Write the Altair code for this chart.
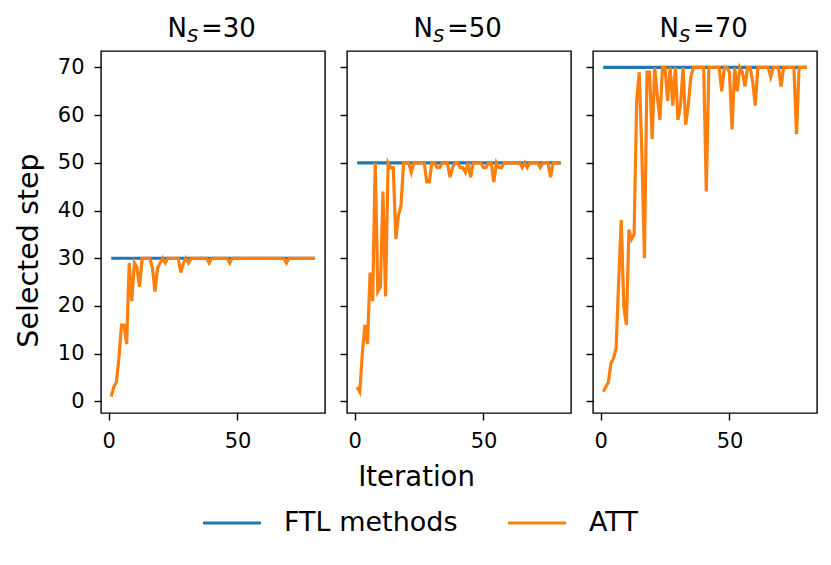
import altair as alt
import pandas as pd

# ---------------- data ----------------
iterations = list(range(1, 81))
ftl_iterations = [1, 80]
n_s_values = [30, 50, 70]

att_30 = [1, 3, 4, 9, 16, 16, 12, 29, 21, 29, 28, 24, 30, 30, 30, 30, 28, 23, 28, 29,
          30, 29, 30, 30, 30, 30, 30, 27, 29, 30, 29, 30, 30, 30, 30, 30, 30, 30, 29, 30,
          30, 30, 30, 30, 30, 30, 29, 30, 30, 30, 30, 30, 30, 30, 30, 30, 30, 30, 30, 30,
          30, 30, 30, 30, 30, 30, 30, 30, 29, 30, 30, 30, 30, 30, 30, 30, 30, 30, 30, 30]

att_50 = [3, 2, 10, 16, 12, 27, 21, 50, 23, 24, 44, 22, 50, 49, 49, 34, 39, 41, 50, 50,
          50, 48, 50, 50, 50, 50, 50, 46, 46, 50, 50, 49, 49, 50, 50, 50, 47, 49, 50, 50,
          49, 49, 48, 50, 47, 50, 50, 50, 50, 49, 49, 50, 50, 46, 50, 49, 49, 50, 50, 50,
          50, 50, 50, 50, 49, 50, 49, 50, 50, 50, 50, 49, 50, 50, 50, 47, 50, 50, 50, 50]

att_70 = [2, 3, 4, 8, 9, 11, 25, 38, 20, 16, 36, 34, 35, 63, 69, 52, 30, 69, 69, 55,
          70, 64, 59, 70, 70, 63, 70, 62, 70, 59, 62, 70, 58, 62, 68, 70, 70, 70, 70, 70,
          44, 70, 70, 70, 70, 70, 65, 70, 70, 69, 57, 70, 65, 70, 69, 66, 70, 70, 67, 62,
          70, 70, 70, 70, 70, 68, 70, 70, 70, 66, 70, 70, 70, 70, 70, 56, 70, 70, 70, 70]

att_series = [att_30, att_50, att_70]
series_names = ["FTL methods", "ATT"]
series_colors = ["#1f77b4", "#ff7f0e"]
y_ticks = [0, 10, 20, 30, 40, 50, 60, 70]
x_ticks = [0, 50]

FONT = "DejaVu Sans"
W, H = 224, 362

color_enc = alt.Color(
    "series:N",
    scale=alt.Scale(domain=series_names, range=series_colors),
    legend=alt.Legend(
        orient="none", legendX=100, legendY=441, direction="horizontal",
        symbolType="stroke", symbolSize=3364, symbolStrokeWidth=3.2,
        labelFontSize=27, labelFont=FONT, labelColor="black", labelOffset=21,
        columnPadding=43, title=None, labelLimit=400,
    ),
)


def panel(idx):
    ns = n_s_values[idx]
    att = att_series[idx]
    df_att = pd.DataFrame({"Iteration": iterations, "step": att, "series": "ATT"})
    df_ftl = pd.DataFrame({"Iteration": ftl_iterations, "step": [ns, ns], "series": "FTL methods"})

    xaxis_kw = dict(values=x_ticks, labelAngle=0)
    if idx == 1:
        xaxis_kw.update(title="Iteration", titleX=69, titleY=72, titleBaseline="alphabetic",
                        titleAlign="center", titleFontSize=27.5)
    else:
        xaxis_kw.update(title=None)
    yaxis_kw = dict(values=y_ticks)
    if idx == 0:
        yaxis_kw.update(title="Selected step", titleX=-64, titleY=199, titleAngle=270,
                        titleBaseline="alphabetic", titleAlign="center", titleFontSize=28.5)
    else:
        yaxis_kw.update(title=None, labels=False)

    x = alt.X("Iteration:Q", scale=alt.Scale(domain=[-2.95, 83.95], nice=False, zero=False),
              axis=alt.Axis(**xaxis_kw))
    y = alt.Y("step:Q", scale=alt.Scale(domain=[-2.45, 73.45], nice=False, zero=False),
              axis=alt.Axis(**yaxis_kw))

    ftl = alt.Chart(df_ftl).mark_line(strokeWidth=3.2).encode(x=x, y=y, color=color_enc)
    attl = alt.Chart(df_att).mark_line(strokeWidth=3.2).encode(x=x, y=y, color=color_enc)

    c = W / 2
    t_n = alt.Chart(pd.DataFrame({"t": ["N"]})).mark_text(
        align="left", baseline="alphabetic", fontSize=26, font=FONT, color="black"
    ).encode(x=alt.value(c - 45.5), y=alt.value(-14), text="t:N")
    t_s = alt.Chart(pd.DataFrame({"t": ["S"]})).mark_text(
        align="left", baseline="alphabetic", fontSize=18, font=FONT, fontStyle="italic",
        color="black"
    ).encode(x=alt.value(c - 26), y=alt.value(-9), text="t:N")
    t_eq = alt.Chart(pd.DataFrame({"t": [f"={ns}"]})).mark_text(
        align="left", baseline="alphabetic", fontSize=26, font=FONT, color="black"
    ).encode(x=alt.value(c - 12), y=alt.value(-14), text="t:N")

    return alt.layer(ftl, attl, t_n, t_s, t_eq).properties(width=W, height=H)


chart = alt.hconcat(panel(0), panel(1), panel(2), spacing=12).properties(
    padding={"left": 5, "top": 7, "right": 5, "bottom": 5}
).configure_view(
    stroke="black", strokeWidth=1.4
).configure_axis(
    grid=False, domain=False, tickColor="black", tickSize=7, tickWidth=1.4,
    labelFontSize=21, labelColor="black", labelFont=FONT, labelPadding=10,
    titleFont=FONT, titleFontSize=27, titleFontWeight="normal", titleColor="black",
)

chart.save("out.html", embed_options={"renderer": "svg", "actions": False})
